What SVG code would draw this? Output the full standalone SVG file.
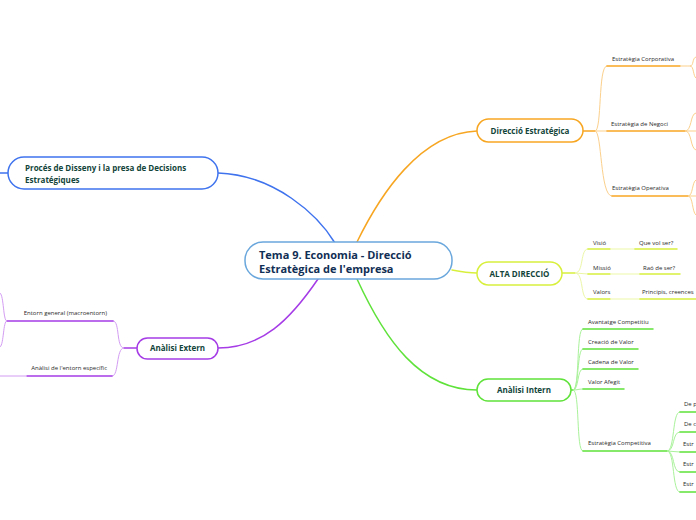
<svg xmlns="http://www.w3.org/2000/svg" width="696" height="520" viewBox="0 0 696 520">
<style>
.bg{fill:#ffffff}
.node{fill:#ffffff;stroke-width:1.5}
.t{font-family:"Open Sans","Noto Sans",sans-serif;font-weight:bold;font-size:8px;fill:#12443a}
.tc{font-family:"Open Sans","Noto Sans",sans-serif;font-weight:bold;font-size:11px;fill:#112f55}
.s{font-family:"Open Sans","Noto Sans",sans-serif;font-size:6px;fill:#2a2a2a}
.c{fill:none;stroke-width:1.5;stroke-linecap:round}
.l{fill:none;stroke-width:1}
.or{stroke:#f7a622}.orl{stroke:#fbd08c}
.yg{stroke:#d8f03c}.ygl{stroke:#ecf7a6}
.gr{stroke:#5fe23a}.grl{stroke:#a9f29a}
.pu{stroke:#a53ce6}.pul{stroke:#d39cf3}
.bl{stroke:#3f73ee}
</style>
<rect class="bg" x="0" y="0" width="696" height="520"/>
<g id="connectors">
<path class="c bl" d="M335,243 C318,215 275,175 218,173"/>
<path class="c bl" d="M8,173 L0,173"/>
<path class="c or" d="M357,242 C380,195 420,133 477,131"/>
<path class="c yg" d="M452,270 C462,272 468,273 477,273"/>
<path class="c gr" d="M357,279 C385,340 420,390 477,390"/>
<path class="c pu" d="M318,279 C290,320 262,348 218,348"/>
<!-- orange subtree -->
<path class="c or" d="M583,131 L595,131"/>
<path class="l orl" d="M595,131 C602,131 598,66 607,66"/>
<path class="l orl" d="M595,131 L607,131"/>
<path class="l orl" d="M595,131 C602,131 600,196 612,196"/>
<path class="c or" d="M607,66 L680,66"/>
<path class="c or" d="M607,131 L685,131"/>
<path class="c or" d="M612,196 L688,196"/>
<path class="l orl" d="M680,66 L690,66 C694,66 692,58 696,57"/>
<path class="l orl" d="M690,66 C694,66 693,76 696,78"/>
<path class="l orl" d="M685,131 C692,131 690,114 696,113"/>
<path class="l orl" d="M685,131 L696,131"/>
<path class="l orl" d="M685,131 C692,131 690,148 696,150"/>
<path class="l orl" d="M688,196 C693,196 692,182 696,180"/>
<path class="l orl" d="M688,196 L696,196"/>
<path class="l orl" d="M688,196 C693,196 692,212 696,215"/>
<!-- yellow subtree -->
<path class="c yg" d="M562,273 L575,273"/>
<path class="l ygl" d="M575,273 C584,273 580,249 588,249"/>
<path class="l ygl" d="M575,273 L588,274"/>
<path class="l ygl" d="M575,273 C584,273 580,299 588,299"/>
<path class="c yg" d="M588,249 L610,249"/>
<path class="l ygl" d="M610,249 L635,249"/>
<path class="c yg" d="M635,249 L677,249"/>
<path class="c yg" d="M588,274 L610,274"/>
<path class="l ygl" d="M610,274 L640,274"/>
<path class="c yg" d="M640,274 L680,274"/>
<path class="c yg" d="M588,299 L610,299"/>
<path class="l ygl" d="M610,299 L640,299"/>
<path class="c yg" d="M640,299 L696,299"/>
<!-- green subtree -->
<path class="c gr" d="M571,390 L573,390"/>
<path class="l grl" d="M573,390 C580,390 576,329 583,329"/>
<path class="l grl" d="M573,390 C579,390 577,349 583,349"/>
<path class="l grl" d="M573,390 C579,390 577,369 583,369"/>
<path class="l grl" d="M573,390 C578,390 578,389 583,389"/>
<path class="l grl" d="M573,390 C580,390 576,451 583,451"/>
<path class="c gr" d="M583,329 L653,329"/>
<path class="c gr" d="M583,349 L638,349"/>
<path class="c gr" d="M583,369 L638,369"/>
<path class="c gr" d="M583,389 L624,389"/>
<path class="c gr" d="M583,451 L667,451"/>
<path class="l grl" d="M667,451 C675,451 672,412 680,412"/>
<path class="l grl" d="M667,451 C675,451 672,432 680,432"/>
<path class="l grl" d="M667,451 L680,452"/>
<path class="l grl" d="M667,451 C675,451 672,472 680,472"/>
<path class="l grl" d="M667,451 C675,451 672,492 680,492"/>
<path class="c gr" d="M680,412 L696,412"/>
<path class="c gr" d="M680,432 L696,432"/>
<path class="c gr" d="M680,452 L696,452"/>
<path class="c gr" d="M680,472 L696,472"/>
<path class="c gr" d="M680,492 L696,492"/>
<!-- purple subtree -->
<path class="c pu" d="M137,348 L124,348"/>
<path class="l pul" d="M124,348 C116,348 120,321 113,321"/>
<path class="l pul" d="M124,348 C116,348 119,376 112,376"/>
<path class="c pu" d="M113,321 L7,321"/>
<path class="c pu" d="M112,376 L27,376"/>
<path class="l pul" d="M27,376 L0,376"/>
<path class="l pul" d="M7,321 C3,321 4,296 0,293"/>
<path class="l pul" d="M7,321 C3,321 4,344 0,347"/>
</g>
<g id="central">
<rect class="node" x="245" y="242" width="207" height="37" rx="18" stroke="#6aa7dc"/>
<text class="tc" x="259" y="259">Tema 9. Economia - Direcció</text>
<text class="tc" x="259" y="273">Estratègica de l'empresa</text>
</g>
<g id="proces">
<rect class="node" x="8" y="157" width="210" height="32" rx="16" stroke="#3f73ee"/>
<text class="t" x="25" y="171">Procés de Disseny i la presa de Decisions</text>
<text class="t" x="25" y="183">Estratégiques</text>
</g>
<g id="direccio">
<rect class="node" x="477" y="119" width="106" height="23" rx="11.5" stroke="#f7a622"/>
<text class="t" x="530" y="133.5" text-anchor="middle">Direcció Estratégica</text>
</g>
<g id="alta">
<rect class="node" x="477" y="262" width="85" height="23" rx="11.5" stroke="#d8f03c"/>
<text class="t" x="519.5" y="276.5" text-anchor="middle">ALTA DIRECCIÓ</text>
</g>
<g id="intern">
<rect class="node" x="477" y="379" width="94" height="22" rx="11" stroke="#5fe23a"/>
<text class="t" x="524" y="393" text-anchor="middle">Anàlisi Intern</text>
</g>
<g id="extern">
<rect class="node" x="137" y="338" width="81" height="21" rx="10.5" stroke="#a53ce6"/>
<text class="t" x="177.5" y="351" text-anchor="middle">Anàlisi Extern</text>
</g>
<g id="sub-direccio">
<text class="s" x="612" y="61">Estratègia Corporativa</text>
<text class="s" x="611" y="126">Estratègia de Negoci</text>
<text class="s" x="612" y="190">Estratègia Operativa</text>
</g>
<g id="sub-alta">
<text class="s" x="593" y="245">Visió</text>
<text class="s" x="639" y="245">Que vol ser?</text>
<text class="s" x="593" y="270">Missió</text>
<text class="s" x="643" y="270">Raó de ser?</text>
<text class="s" x="593" y="294">Valors</text>
<text class="s" x="642" y="294">Principis, creences</text>
</g>
<g id="sub-intern">
<text class="s" x="588" y="324">Avantatge Competitiu</text>
<text class="s" x="588" y="344">Creació de Valor</text>
<text class="s" x="588" y="364">Cadena de Valor</text>
<text class="s" x="588" y="384">Valor Afegit</text>
<text class="s" x="588" y="445">Estratègia Competitiva</text>
<text class="s" x="684" y="406">De p</text>
<text class="s" x="684" y="426">De c</text>
<text class="s" x="683" y="446">Estr</text>
<text class="s" x="683" y="466">Estr</text>
<text class="s" x="683" y="486">Estr</text>
</g>
<g id="sub-extern">
<text class="s" x="107" y="315" text-anchor="end">Entorn general (macroentorn)</text>
<text class="s" x="107" y="370" text-anchor="end">Anàlisi de l'entorn específic</text>
</g>
</svg>
